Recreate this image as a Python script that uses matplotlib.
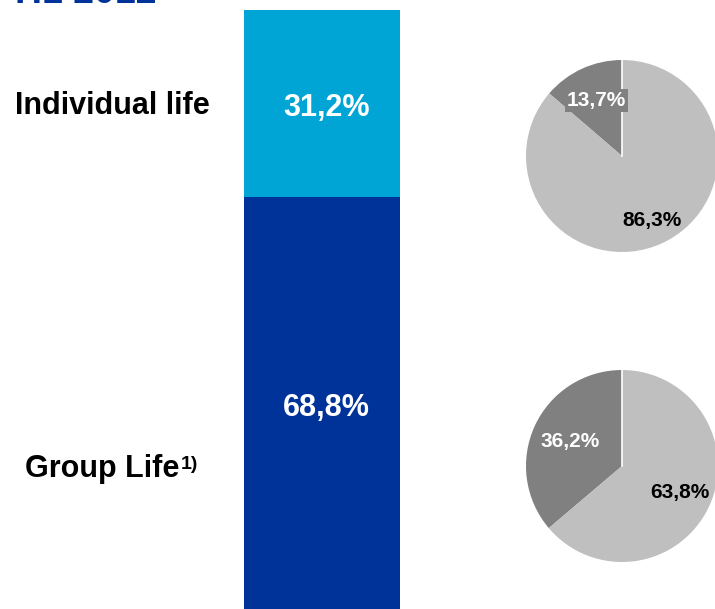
import numpy as np
import matplotlib
matplotlib.use("Agg")
import matplotlib.pyplot as plt

plt.rcParams['font.family'] = ['Liberation Sans', 'DejaVu Sans']
plt.rcParams['font.weight'] = 'bold'

# split of the life business (stacked bar)
segments = ["Group Life", "Individual life"]
seg_share = [68.8, 31.2]
seg_colors = ["#003399", "#00A5D6"]

# share inside each segment (dark wedge first, then light)
pie_individual = [13.7, 86.3]
pie_group = [36.2, 63.8]
pie_colors = ["#808080", "#BFBFBF"]

W, H = 715, 609
fig = plt.figure(figsize=(W / 100, H / 100), dpi=100)


def px_box(x0, y0, w, h):
    # pixel box (top-left origin) -> figure fraction
    return [x0 / W, 1 - (y0 + h) / H, w / W, h / H]


def fmt(v):
    return f"{v:.1f}".replace(".", ",") + "%"


# title, sits mostly above the canvas
fig.text(15 / W, 1 - 3 / H, "H1 2012", color="#003399", fontsize=27,
         fontweight="bold", va="baseline", ha="left")

# stacked bar
ax = fig.add_axes(px_box(244, 10, 156, 599))
bottom = 0
for name, v, c in zip(segments, seg_share, seg_colors):
    ax.bar(0, v, width=1, bottom=bottom, color=c, linewidth=0)
    ax.text(0.03, bottom + v / 2 - 0.8, fmt(v), color="white", fontsize=22,
            fontweight="bold", ha="center", va="center")
    bottom += v
ax.set_xlim(-0.5, 0.5)
ax.set_ylim(0, 100)
ax.axis("off")

# segment names on the left
fig.text(15 / W, 1 - 106 / H, "Individual life", fontsize=22,
         fontweight="bold", ha="left", va="center")
t = fig.text(25 / W, 1 - 469 / H, "Group Life", fontsize=22,
             fontweight="bold", ha="left", va="center")
ax.annotate("1)", xy=(1, 0.92), xycoords=t, xytext=(1, 0),
            textcoords="offset points", fontsize=14, fontweight="bold",
            ha="left", va="top", annotation_clip=False)


def draw_pie(center_y, values, dists, label_colors, boxed):
    pax = fig.add_axes(px_box(622 - 96, center_y - 96, 192, 192))
    wedges, _ = pax.pie(values, colors=pie_colors, startangle=90,
                        counterclock=True, radius=1,
                        wedgeprops=dict(linewidth=0))
    pax.plot([0, 0], [0, 1], color="white", lw=1.2)
    for w, v, d, tc, bx in zip(wedges, values, dists, label_colors, boxed):
        ang = np.deg2rad((w.theta1 + w.theta2) / 2)
        kw = {}
        if bx:
            kw["bbox"] = dict(facecolor=pie_colors[0], edgecolor="none", pad=1.5)
        pax.text(d * np.cos(ang), d * np.sin(ang), fmt(v), color=tc,
                 fontsize=15, fontweight="bold", ha="center", va="center", **kw)
    pax.set_xlim(-1, 1)
    pax.set_ylim(-1, 1)
    pax.set_aspect("equal")
    pax.axis("off")


draw_pie(156, pie_individual, [0.64, 0.74], ["white", "black"], [True, False])
draw_pie(466, pie_group, [0.6, 0.66], ["white", "black"], [False, False])

fig.savefig("out.png", dpi=100)
